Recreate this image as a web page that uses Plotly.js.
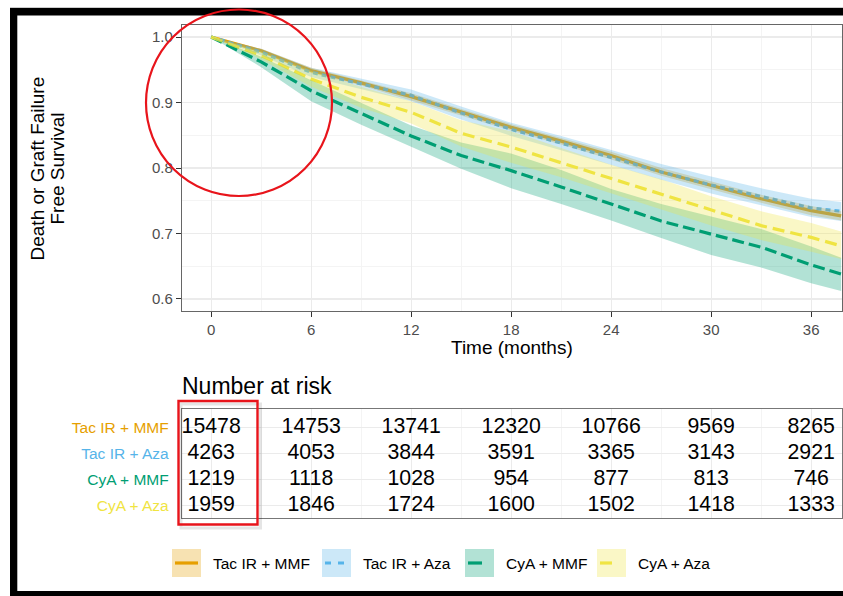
<!DOCTYPE html>
<html><head><meta charset="utf-8">
<script src="https://cdn.plot.ly/plotly-3.0.1.min.js"></script>
<style>body{margin:0;background:#fff}#chart{width:843px;height:596px}</style>
</head><body><div id="chart"></div>
<script>
// ---------- data ----------
const groups = ['Tac IR + MMF', 'Tac IR + Aza', 'CyA + MMF', 'CyA + Aza'];
const months = [0, 3, 6, 9, 12, 15, 18, 21, 24, 27, 30, 33, 36, 37.8];

const survTacMMF = [1.000,0.979,0.949,0.930,0.909,0.885,0.862,0.841,0.819,0.794,0.773,0.753,0.735,0.727];
const lowTacMMF  = [1.000,0.976,0.945,0.926,0.904,0.880,0.857,0.836,0.813,0.788,0.767,0.747,0.728,0.720];
const highTacMMF = [1.000,0.982,0.953,0.934,0.914,0.890,0.867,0.846,0.825,0.800,0.779,0.759,0.742,0.734];

const survTacAza = [1.000,0.977,0.946,0.928,0.911,0.884,0.859,0.838,0.816,0.794,0.774,0.756,0.739,0.734];
const lowTacAza  = [1.000,0.972,0.939,0.920,0.902,0.874,0.849,0.827,0.805,0.782,0.761,0.743,0.725,0.719];
const highTacAza = [1.000,0.982,0.953,0.936,0.920,0.894,0.869,0.849,0.827,0.806,0.787,0.769,0.753,0.748];

const survCyaMMF = [1.000,0.962,0.918,0.883,0.849,0.819,0.796,0.771,0.745,0.719,0.699,0.679,0.652,0.638];
const lowCyaMMF  = [1.000,0.954,0.902,0.866,0.833,0.799,0.769,0.745,0.720,0.693,0.667,0.648,0.624,0.612];
const highCyaMMF = [1.000,0.970,0.934,0.900,0.865,0.839,0.822,0.797,0.768,0.745,0.726,0.707,0.680,0.663];

const survCyaAza = [1.000,0.972,0.936,0.908,0.885,0.853,0.832,0.808,0.783,0.760,0.735,0.712,0.694,0.681];
const lowCyaAza  = [1.000,0.966,0.924,0.892,0.868,0.833,0.808,0.786,0.761,0.737,0.712,0.690,0.672,0.661];
const highCyaAza = [1.000,0.978,0.948,0.924,0.902,0.873,0.856,0.830,0.805,0.783,0.757,0.734,0.716,0.703];

const riskMonths = [0, 6, 12, 18, 24, 30, 36];
const riskTacMMF = [15478, 14753, 13741, 12320, 10766, 9569, 8265];
const riskTacAza = [4263, 4053, 3844, 3591, 3365, 3143, 2921];
const riskCyaMMF = [1219, 1118, 1028, 954, 877, 813, 746];
const riskCyaAza = [1959, 1846, 1724, 1600, 1502, 1418, 1333];

const xTicks = [0, 6, 12, 18, 24, 30, 36];
const yTicks = [0.6, 0.7, 0.8, 0.9, 1.0];
const yTickLabels = ['0.6', '0.7', '0.8', '0.9', '1.0'];

// ---------- styling ----------
const FONT = 'Liberation Sans, Arial, Helvetica, sans-serif';
const W = 843, H = 596;
const px = x => x / W;
const py = y => 1 - y / H;
const colors = ['#E69F00', '#56B4E9', '#009E73', '#F0E442'];
const rgba = (hex, a) => {
  const n = parseInt(hex.slice(1), 16);
  return `rgba(${(n >> 16) & 255},${(n >> 8) & 255},${n & 255},${a})`;
};
const dashes = ['solid', '5px,4px', '12px,5px', '12px,6px'];
const survs = [survTacMMF, survTacAza, survCyaMMF, survCyaAza];
const lows = [lowTacMMF, lowTacAza, lowCyaMMF, lowCyaAza];
const highs = [highTacMMF, highTacAza, highCyaMMF, highCyaAza];
const risks = [riskTacMMF, riskTacAza, riskCyaMMF, riskCyaAza];

const traces = [];
// survival lines first (confidence ribbons are drawn over them, as in the original)
groups.forEach((g, i) => {
  traces.push({x: months, y: survs[i], xaxis: 'x', yaxis: 'y', mode: 'lines', name: g,
    line: {width: 3.2, color: colors[i], dash: dashes[i]}, showlegend: false});
});
groups.forEach((g, i) => {
  traces.push({x: months.concat(months.slice().reverse()), y: highs[i].concat(lows[i].slice().reverse()),
    xaxis: 'x', yaxis: 'y', mode: 'lines', fill: 'toself', fillcolor: rgba(colors[i], 0.3),
    line: {width: 0, color: colors[i]}, showlegend: false, hoverinfo: 'skip'});
});

// risk table text
const tx = [], ty = [], tt = [];
risks.forEach((row, r) => row.forEach((v, c) => { tx.push(riskMonths[c]); ty.push(r + 1); tt.push(String(v)); }));
traces.push({x: tx, y: ty, text: tt, xaxis: 'x2', yaxis: 'y2', mode: 'text',
  textfont: {family: FONT, size: 21.3, color: '#000'}, textposition: 'middle center',
  showlegend: false, hoverinfo: 'skip', cliponaxis: false});

const xDomain = [px(182), px(842)];
const xRange = [-1.75, 37.85];
const gridMajor = '#EBEBEB', gridMinor = '#F4F4F4';

const shapes = [];
const annotations = [];

// black frame
shapes.push({type: 'rect', xref: 'paper', yref: 'paper', x0: px(10), x1: px(843), y0: py(7), y1: py(7.8),
  fillcolor: '#BBBBBB', line: {width: 0}, layer: 'above'});
shapes.push({type: 'rect', xref: 'paper', yref: 'paper', x0: px(10), x1: px(843), y0: py(8), y1: py(15.5),
  fillcolor: '#000', line: {width: 0}, layer: 'above'});
shapes.push({type: 'rect', xref: 'paper', yref: 'paper', x0: px(10), x1: px(17.3), y0: py(8), y1: py(596),
  fillcolor: '#000', line: {width: 0}, layer: 'above'});
shapes.push({type: 'rect', xref: 'paper', yref: 'paper', x0: px(10), x1: px(843), y0: py(591), y1: py(596),
  fillcolor: '#000', line: {width: 0}, layer: 'above'});

// red highlight marks (with faint drop shadow under the rectangle)
shapes.push({type: 'rect', xref: 'paper', yref: 'paper', x0: px(181), x1: px(260.5), y0: py(404), y1: py(528),
  line: {color: 'rgba(0,0,0,0.10)', width: 3}, layer: 'above'});
shapes.push({type: 'rect', xref: 'paper', yref: 'paper', x0: px(178.5), x1: px(257.5), y0: py(401), y1: py(524.5),
  line: {color: '#E8141B', width: 2.4}, layer: 'above'});
shapes.push({type: 'circle', xref: 'paper', yref: 'paper', x0: px(146), x1: px(332), y0: py(9.5), y1: py(196),
  line: {color: '#E8141B', width: 2.2}, layer: 'above'});

// manual legend
const keyX = [172, 322, 465, 597];
const keyLineDash = ['solid', '6px,7px', '14px,9px', '12px,16px'];
groups.forEach((g, i) => {
  shapes.push({type: 'rect', xref: 'paper', yref: 'paper', x0: px(keyX[i]), x1: px(keyX[i] + 29),
    y0: py(549), y1: py(577), fillcolor: rgba(colors[i], 0.3), line: {width: 0}});
  shapes.push({type: 'line', xref: 'paper', yref: 'paper', x0: px(keyX[i] + 3), x1: px(keyX[i] + 26),
    y0: py(563), y1: py(563), line: {color: colors[i], width: 3.2, dash: keyLineDash[i]}});
  annotations.push({xref: 'paper', yref: 'paper', x: px(keyX[i] + 39), y: py(563), xanchor: 'left', yanchor: 'middle',
    text: g, showarrow: false, font: {family: FONT, size: 15.5, color: '#000'}});
});

// titles
annotations.push({xref: 'paper', yref: 'paper', x: px(37), y: py(168.5), textangle: -90, xanchor: 'center', yanchor: 'middle',
  text: 'Death or Graft Failure', showarrow: false, font: {family: FONT, size: 19, color: '#000'}});
annotations.push({xref: 'paper', yref: 'paper', x: px(57), y: py(168.5), textangle: -90, xanchor: 'center', yanchor: 'middle',
  text: 'Free Survival', showarrow: false, font: {family: FONT, size: 19, color: '#000'}});
annotations.push({xref: 'paper', yref: 'paper', x: px(512), y: py(347), xanchor: 'center', yanchor: 'middle',
  text: 'Time (months)', showarrow: false, font: {family: FONT, size: 19, color: '#000'}});
annotations.push({xref: 'paper', yref: 'paper', x: px(180), y: py(386), xanchor: 'left', yanchor: 'middle',
  text: 'Number at risk', showarrow: false, font: {family: FONT, size: 23, color: '#000'}});

const layout = {
  width: W, height: H,
  margin: {l: 0, r: 0, t: 0, b: 0, pad: 0},
  paper_bgcolor: '#fff', plot_bgcolor: '#fff',
  font: {family: FONT},
  showlegend: false,
  xaxis: {domain: xDomain, range: xRange, anchor: 'y', tickvals: xTicks, ticktext: xTicks.map(String),
    ticks: 'outside', ticklen: 5, tickwidth: 1, tickcolor: '#333', tickfont: {family: FONT, size: 15, color: '#4D4D4D'},
    showgrid: true, gridcolor: gridMajor, gridwidth: 1.2, zeroline: false,
    minor: {dtick: 3, tick0: 0, showgrid: true, gridcolor: gridMinor, gridwidth: 1, ticks: ''},
    showline: true, mirror: true, linecolor: '#666', linewidth: 1.2},
  yaxis: {domain: [py(311), py(25)], range: [0.5816, 1.0184], anchor: 'x', tickvals: yTicks, ticktext: yTickLabels,
    ticks: 'outside', ticklen: 5, tickwidth: 1, tickcolor: '#333', tickfont: {family: FONT, size: 15, color: '#4D4D4D'},
    showgrid: true, gridcolor: gridMajor, gridwidth: 1.2, zeroline: false,
    minor: {dtick: 0.05, tick0: 0, showgrid: true, gridcolor: gridMinor, gridwidth: 1, ticks: ''},
    showline: true, mirror: true, linecolor: '#666', linewidth: 1.2},
  xaxis2: {domain: xDomain, range: xRange, anchor: 'y2', tickvals: xTicks, showticklabels: false, ticks: '',
    showgrid: true, gridcolor: gridMajor, gridwidth: 1.2, zeroline: false,
    minor: {dtick: 3, tick0: 0, showgrid: true, gridcolor: gridMinor, gridwidth: 1, ticks: ''},
    showline: true, mirror: true, linecolor: '#777', linewidth: 1.2},
  yaxis2: {domain: [py(518), py(409)], range: [4.485, 0.285], anchor: 'x2', tickvals: [1, 2, 3, 4],
    ticktext: groups.map((g, i) => `<span style="color:${colors[i]}">${g}</span>`),
    ticks: '', ticklen: 0, ticklabelstandoff: 9, tickfont: {family: FONT, size: 15.5},
    showgrid: true, gridcolor: gridMajor, gridwidth: 1.2,
    zeroline: false, showline: true, mirror: true, linecolor: '#777', linewidth: 1.2},
  shapes: shapes,
  annotations: annotations
};

Plotly.newPlot('chart', traces, layout, {displayModeBar: false, staticPlot: true});
</script>
</body></html>
